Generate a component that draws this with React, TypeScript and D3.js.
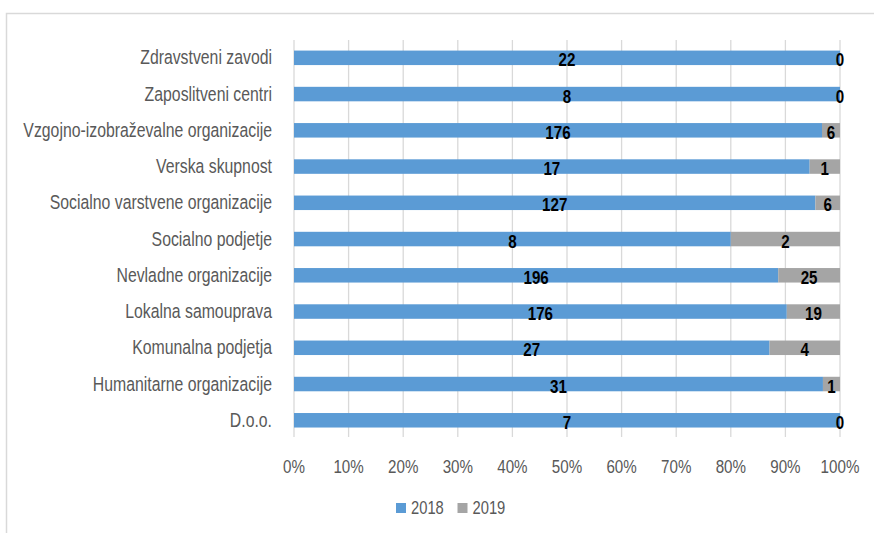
import React from "react";
import * as d3 from "d3";

const categories = [
  "Zdravstveni zavodi",
  "Zaposlitveni centri",
  "Vzgojno-izobraževalne organizacije",
  "Verska skupnost",
  "Socialno varstvene organizacije",
  "Socialno podjetje",
  "Nevladne organizacije",
  "Lokalna samouprava",
  "Komunalna podjetja",
  "Humanitarne organizacije",
  "D.o.o.",
];
const values2018 = [22, 8, 176, 17, 127, 8, 196, 176, 27, 31, 7];
const values2019 = [0, 0, 6, 1, 6, 2, 25, 19, 4, 1, 0];
const seriesNames = ["2018", "2019"];
const seriesColors = ["#5b9bd5", "#a5a5a5"];
const tickValues = [0, 0.1, 0.2, 0.3, 0.4, 0.5, 0.6, 0.7, 0.8, 0.9, 1];

const FONT = "'Liberation Sans', Arial, sans-serif";
const SX = 0.82;

function NText(props: { x: number; y: number; anchor?: string; size: number; fill: string; bold?: boolean; children: any }) {
  return (
    <g transform={`translate(${props.x},${props.y}) scale(${SX},1)`}>
      <text
        x={0}
        y={0}
        textAnchor={props.anchor || "start"}
        fontSize={props.size}
        fontWeight={props.bold ? "bold" : "normal"}
        fill={props.fill}
      >
        {props.children}
      </text>
    </g>
  );
}

export default function App() {
  const W = 874;
  const H = 533;
  const x = d3.scaleLinear().domain([0, 1]).range([294, 840]);
  const y = d3.scaleBand().domain(categories).range([39.7, 438.4]).paddingInner(0.6).paddingOuter(0.3);

  const rows = categories.map((c, i) => ({ cat: c, a: values2018[i], b: values2019[i] }));
  const stack = d3.stack<any>().keys(["a", "b"]).offset(d3.stackOffsetExpand);
  const stacked = stack(rows);

  const [y0, y1] = [40, 437];

  return (
    <svg width={W} height={H} style={{ position: "absolute", left: 0, top: 0, background: "#fff" }} fontFamily={FONT}>
      <rect x={6.5} y={13.5} width={W + 10} height={H + 10} fill="#fff" stroke="#d9d9d9" strokeWidth={1.5} />
      {tickValues.map((t) => (
        <line key={"g" + t} x1={x(t)} x2={x(t)} y1={y0} y2={y1} stroke="#d9d9d9" strokeWidth={1.3} />
      ))}
      {tickValues.map((t) => (
        <NText key={"t" + t} x={x(t)} y={473} anchor="middle" size={18.5} fill="#595959">
          {d3.format(".0%")(t)}
        </NText>
      ))}
      {categories.map((c) => (
        <NText key={"c" + c} x={272} y={(y(c) as number) + y.bandwidth() / 2 + 6.5} anchor="end" size={19.3} fill="#595959">
          {c}
        </NText>
      ))}
      {stacked.map((s, si) =>
        s.map((d: any, i: number) => (
          <rect
            key={"r" + si + i}
            x={x(d[0])}
            width={Math.max(0, x(d[1]) - x(d[0]))}
            y={y(categories[i]) as number}
            height={y.bandwidth()}
            fill={seriesColors[si]}
          />
        ))
      )}
      {stacked.map((s, si) =>
        s.map((d: any, i: number) => (
          <NText
            key={"l" + si + i}
            x={(x(d[0]) + x(d[1])) / 2}
            y={(y(categories[i]) as number) + y.bandwidth() / 2 + 8.5}
            anchor="middle"
            size={18.5}
            bold
            fill="#000"
          >
            {si === 0 ? values2018[i] : values2019[i]}
          </NText>
        ))
      )}
      {seriesNames.map((n, i) => {
        const lx = 396 + i * 61.5;
        return (
          <g key={"lg" + n}>
            <rect x={lx} y={503} width={10} height={10} fill={seriesColors[i]} />
            <NText x={lx + 15} y={514} size={18} fill="#595959">
              {n}
            </NText>
          </g>
        );
      })}
    </svg>
  );
}
